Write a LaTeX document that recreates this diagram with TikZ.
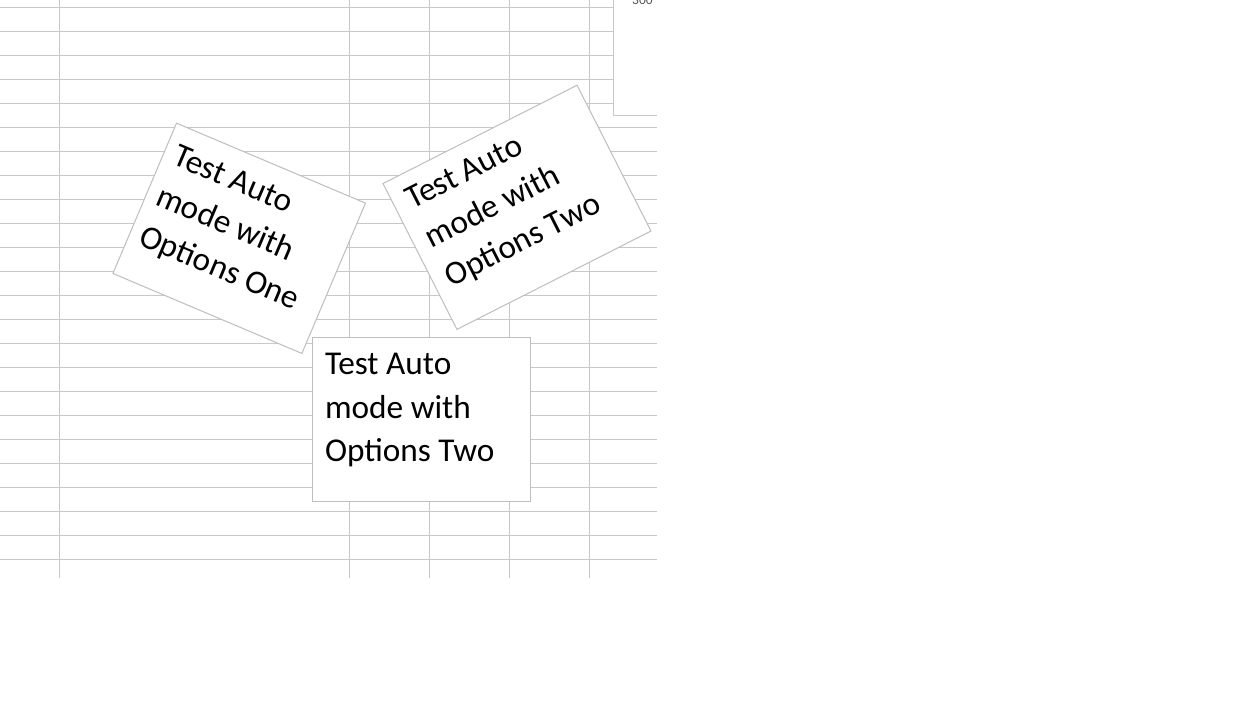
\documentclass[tikz,border=0pt]{standalone}
\usepackage{fontspec}
\setmainfont{Carlito}
\definecolor{gridgray}{RGB}{200,200,200}
\definecolor{boxgray}{RGB}{190,190,190}
\definecolor{axistext}{RGB}{89,89,89}
\tikzset{
  gridline/.style={draw=gridgray, line width=1pt},
  tbox/.style={draw=boxgray, fill=white, line width=1pt, rectangle, inner sep=0pt, transform shape},
  ttext/.style={anchor=north west, inner sep=0pt, align=left, text=black,
    font=\fontsize{33.3}{43.5}\selectfont, transform shape},
}
\begin{document}
\begin{tikzpicture}[x=1pt, y=-1pt]
\useasboundingbox (0,0) rectangle (1248,728);
\clip (0,0) rectangle (1248,728);
\fill[white] (0,0) rectangle (1248,728);
% spreadsheet grid
\foreach \k in {0,...,23} {
  \draw[gridline] (0,{7+24*\k}) -- (657,{7+24*\k});
}
\foreach \xx in {59,349,429,509,589} {
  \draw[gridline] (\xx,0) -- (\xx,578);
}
% chart fragment
\fill[white] (613,-2) rectangle (660,115);
\draw[gridline] (613,-2) -- (613,115) -- (657,115);
\node[anchor=base west, inner sep=0pt, text=axistext, font=\fontsize{13.5}{16}\selectfont] (axis300) at (632,5) {300};
% box 1
\begin{scope}[shift={(239.2,238.3)}, rotate=-22.94]
  \node[tbox, minimum width=205.2pt, minimum height=163.2pt] (b1) at (0,0) {};
  \node[ttext] (t1) at (-102.6+11,-81.6+18) {Test Auto\\mode with\\Options One};
\end{scope}
% box 2
\begin{scope}[shift={(517,207.3)}, rotate=26.87]
  \node[tbox, minimum width=217.5pt, minimum height=163.5pt] (b2) at (0,0) {};
  \node[ttext] (t2) at (-108.75+14,-81.75+15) {Test Auto\\mode with\\Options Two};
\end{scope}
% box 3
\begin{scope}[shift={(421.3,419.2)}]
  \node[tbox, minimum width=218pt, minimum height=163.7pt] (b3) at (0,0) {};
  \node[ttext] (t3) at (-109+12.5,-81.85+16) {Test Auto\\mode with\\Options Two};
\end{scope}
\end{tikzpicture}
\end{document}
